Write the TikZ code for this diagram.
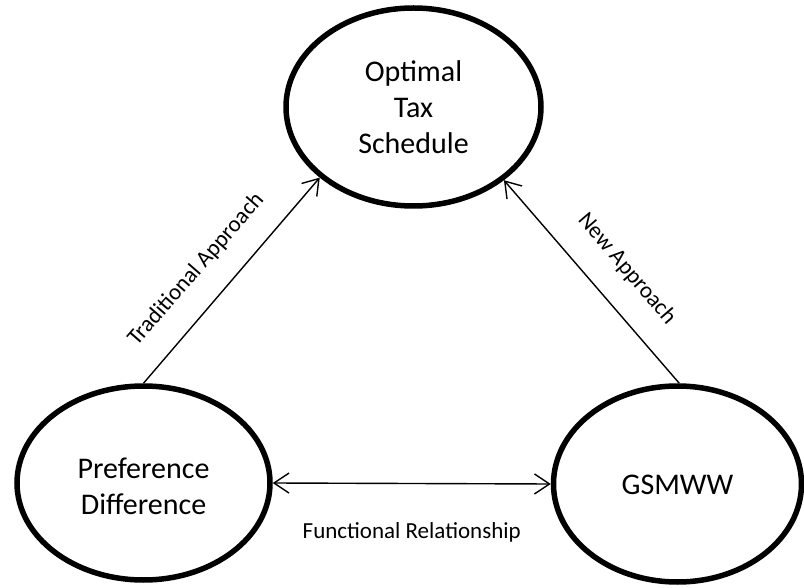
\documentclass[tikz,border=0pt]{standalone}
\usepackage{fontspec}
\setmainfont{Carlito}
\usetikzlibrary{shapes.geometric,arrows.meta,calc}
\newcommand{\stacktext}[2]{\raisebox{#1}[\height][\depth]{\begin{tabular}{@{}c@{}}#2\end{tabular}}}
\begin{document}
\begin{tikzpicture}[x=1pt,y=-1pt,
  bubble/.style={ellipse,draw=black,line width=5.5pt,align=center,inner sep=0pt,
    font=\fontsize{30}{36}\selectfont},
  link/.style={line width=1.4pt,-{Straight Barb[length=15pt,width=20pt,line width=1.4pt]}},
  twolink/.style={line width=1.4pt,{Straight Barb[length=15pt,width=20pt,line width=1.4pt]}-{Straight Barb[length=15pt,width=20pt,line width=1.4pt]}},
  edgetext/.style={font=\fontsize{23}{27}\selectfont,inner sep=0pt}]
\useasboundingbox (0,0) rectangle (804,588);
\node[bubble,minimum width=255pt,minimum height=198pt] (ots) at (413.5,107) {\stacktext{-3pt}{Optimal\\Tax\\Schedule}};
\node[bubble,minimum width=253pt,minimum height=194pt] (pd) at (143.5,483) {\stacktext{-6pt}{Preference\\Difference}};
\node[bubble,minimum width=248pt,minimum height=196pt] (gs) at (677.5,484) {\stacktext{-3pt}{GSMWW}};
\draw[link] (pd.90) -- (ots.217.6);
\draw[link] (gs.89) -- (ots.321.8);
\draw[twolink] (pd.0) -- (gs.180);
\node[edgetext,rotate=49] (ta) at ($(pd.90)!0.445!(ots.217.6)!34pt!90:(ots.217.6)$) {Traditional Approach};
\node[edgetext,rotate=-49.4] (na) at ($(gs.89)!0.45!(ots.321.8)!35pt!-90:(ots.321.8)$) {New Approach};
\node[edgetext] (fr) at ($(pd.0)!0.5!(gs.180)+(0,49)$) {Functional Relationship};
\end{tikzpicture}
\end{document}
